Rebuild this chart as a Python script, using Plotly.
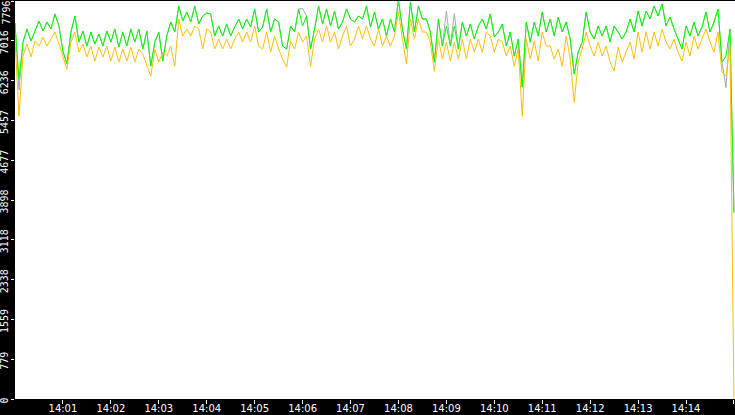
import pandas as pd
import plotly.graph_objects as go

# values, one sample every 5 s from 14:00:00 to 14:15:00
green = [
    7365, 6265, 6991, 7247, 7011, 7208, 7404, 7208, 7384, 7247, 7541, 7306, 6815, 6560, 7188, 7502,
    6991, 7208, 6913, 7188, 6952, 7149, 6913, 7208, 6991, 7247, 6893, 7188, 6913, 7247, 6991, 7247,
    6854, 7208, 6520, 6991, 7188, 6619, 7109, 7384, 7188, 7699, 7404, 7581, 7384, 7699, 7345,
    7502, 7561, 7541, 7109, 7306, 7109, 7345, 7109, 7286, 7443, 7247, 7443, 7286, 7640, 7188,
    7286, 7640, 7188, 7443, 7384, 6913, 6854, 7306, 7188, 7640, 7306, 7502, 6854, 7247, 7699,
    7345, 7640, 7306, 7600, 7247, 7384, 7640, 7443, 7384, 7502, 7443, 7699, 7286, 7581, 7247,
    7443, 7109, 7443, 7188, 7816, 7247, 6854, 7777, 7188, 7699, 7443, 7443, 7188, 6599, 7443,
    6913, 7306, 6913, 7306, 6854, 7384, 7109, 7345, 7050, 7306, 7443, 7247, 7541, 7090, 7188,
    7345, 6913, 7188, 6717, 7050, 6108, 7384, 6991, 7384, 7109, 7581, 7188, 7443, 7109, 7482,
    7188, 7384, 7050, 6363, 6795, 6991, 7581, 7188, 7050, 7306, 7109, 7306, 6991, 7306, 7188,
    7050, 7188, 7443, 7188, 7600, 7306, 7600, 7443, 7699, 7502, 7738, 7306, 7482, 7247, 7050,
    6854, 7306, 7109, 7384, 7109, 7286, 7581, 7188, 7384, 7640, 6599, 6717, 7247, 3650,
]
orange = [
    7050, 5538, 6717, 6952, 6697, 7011, 6913, 7090, 6913, 7050, 7188, 6952, 6717, 6461, 6991, 7188,
    6795, 6952, 6697, 6913, 6619, 6893, 6697, 6913, 6619, 6893, 6599, 6854, 6619, 6893, 6599, 6854,
    6756, 6520, 6324, 6854, 6599, 6795, 6717, 6913, 6520, 7443, 7109, 7247, 7109, 7306, 7247,
    6854, 7247, 7188, 6854, 7050, 6854, 7050, 6854, 7050, 7188, 6991, 7188, 6991, 7306, 6913,
    6854, 7188, 6795, 7109, 6854, 6658, 6501, 7011, 6854, 7188, 6991, 7109, 6520, 7050, 7247,
    6991, 7306, 6991, 7188, 6854, 7109, 7306, 6913, 7050, 7306, 7050, 7306, 7050, 6913, 7247,
    6913, 7109, 6913, 7109, 7581, 7050, 6560, 7443, 7050, 7443, 7188, 7188, 6991, 6422, 7050,
    6658, 6991, 6619, 6991, 6658, 7050, 6658, 7050, 6795, 7050, 6795, 7188, 7109, 6795, 7050,
    6991, 6717, 6913, 6520, 6854, 5538, 7050, 6658, 7011, 6619, 7188, 6913, 6913, 6658, 6854,
    6520, 7109, 6658, 5813, 6599, 6854, 7188, 6913, 6717, 6991, 6717, 6913, 6599, 6422, 6893,
    6599, 6795, 6991, 6658, 7188, 6795, 7188, 6854, 7188, 6913, 7247, 6991, 6854, 7050, 6795,
    6619, 6991, 6717, 7109, 6854, 7050, 7247, 6991, 6795, 7188, 6402, 6324, 6913, 0,
]
# grey series mostly sits under the green one
grey = [
    7365, 6050, 6991, 7247, 7011, 7208, 7404, 7208, 7384, 7247, 7541, 7306, 6815, 6560, 7188, 7502,
    6991, 7208, 6913, 7188, 6952, 7149, 6913, 7208, 6991, 7247, 6893, 7188, 6913, 7247, 6991, 7247,
    6854, 7208, 6520, 6991, 7188, 6619, 7109, 7384, 7188, 7699, 7404, 7581, 7384, 7699, 7345,
    7502, 7561, 7541, 7109, 7306, 7109, 7345, 7109, 7286, 7443, 7247, 7443, 7286, 7640, 7188,
    7286, 7640, 7188, 7443, 7384, 6913, 6854, 7306, 7188, 7640, 7650, 7502, 6854, 7247, 7699,
    7345, 7640, 7306, 7600, 7247, 7384, 7640, 7443, 7384, 7502, 7443, 7699, 7286, 7581, 7247,
    7443, 7109, 7443, 7188, 7816, 7247, 6854, 7777, 7188, 7699, 7443, 7443, 7188, 6599, 7443,
    6913, 7600, 6913, 7550, 6854, 7384, 7109, 7345, 7050, 7306, 7443, 7247, 7541, 7090, 7188,
    7345, 6913, 7188, 6717, 7050, 6108, 7384, 6991, 7384, 7109, 7581, 7188, 7443, 7109, 7482,
    7188, 7384, 7050, 6363, 6795, 6991, 7581, 7188, 7050, 7306, 7109, 7306, 6991, 7306, 7188,
    7050, 7188, 7443, 7188, 7600, 7306, 7600, 7443, 7699, 7502, 7738, 7306, 7482, 7247, 7050,
    6854, 7306, 7109, 7384, 7109, 7286, 7581, 7188, 7384, 7640, 6599, 6100, 7247, 3650,
]
y_ticks = [0, 779, 1559, 2338, 3118, 3898, 4677, 5457, 6236, 7016, 7796]
x_ticks = ["14:01", "14:02", "14:03", "14:04", "14:05", "14:06", "14:07", "14:08",
           "14:09", "14:10", "14:11", "14:12", "14:13", "14:14", "14:15"]

day = "2024-01-01 "
times = pd.date_range(day + "14:00:00", periods=len(green), freq="5s")

fig = go.Figure()
fig.add_trace(go.Scatter(x=times, y=grey, mode="lines", line=dict(color="#a8a8a8", width=1)))
fig.add_trace(go.Scatter(x=times, y=green, mode="lines", line=dict(color="#00ff00", width=1)))
fig.add_trace(go.Scatter(x=times, y=orange, mode="lines", line=dict(color="#ffc000", width=1)))

# top label would be clipped, so it is placed by hand just below its tick
fig.add_annotation(
    x=0, xref="paper", xanchor="right", xshift=-3,
    y=y_ticks[-1], yref="y", yanchor="top", yshift=1,
    text=str(y_ticks[-1]), textangle=-90, showarrow=False, borderpad=0,
    font=dict(family="DejaVu Sans Mono", size=10, color="white"),
)

fig.update_layout(
    width=735, height=415,
    margin=dict(l=15, r=0, t=1, b=16, pad=0, autoexpand=False),
    paper_bgcolor="black", plot_bgcolor="white",
    showlegend=False,
    xaxis=dict(
        type="date",
        range=[day + "14:00:00", day + "14:15:01.3"],
        tickvals=[day + t + ":00" for t in x_ticks],
        ticktext=x_ticks,
        ticks="outside", ticklen=4, tickcolor="white",
        ticklabelstandoff=-4,
        tickfont=dict(family="DejaVu Sans", size=10, color="white"),
        showgrid=False, zeroline=False, showline=False, automargin=False,
    ),
    yaxis=dict(
        range=[0, 7796],
        tickvals=y_ticks,
        ticktext=[str(v) for v in y_ticks[:-1]] + [""],
        tickangle=-90, ticklabelshift=3, ticklabelstandoff=-1,
        ticks="outside", ticklen=3, tickcolor="white",
        tickfont=dict(family="DejaVu Sans Mono", size=10, color="white"),
        showgrid=False, zeroline=False, showline=False, automargin=False,
    ),
)

# the page's default body margin would shift the chart by 8px
fig.write_html("out.html", config={"displayModeBar": False},
               post_script="document.body.style.margin='0';")
